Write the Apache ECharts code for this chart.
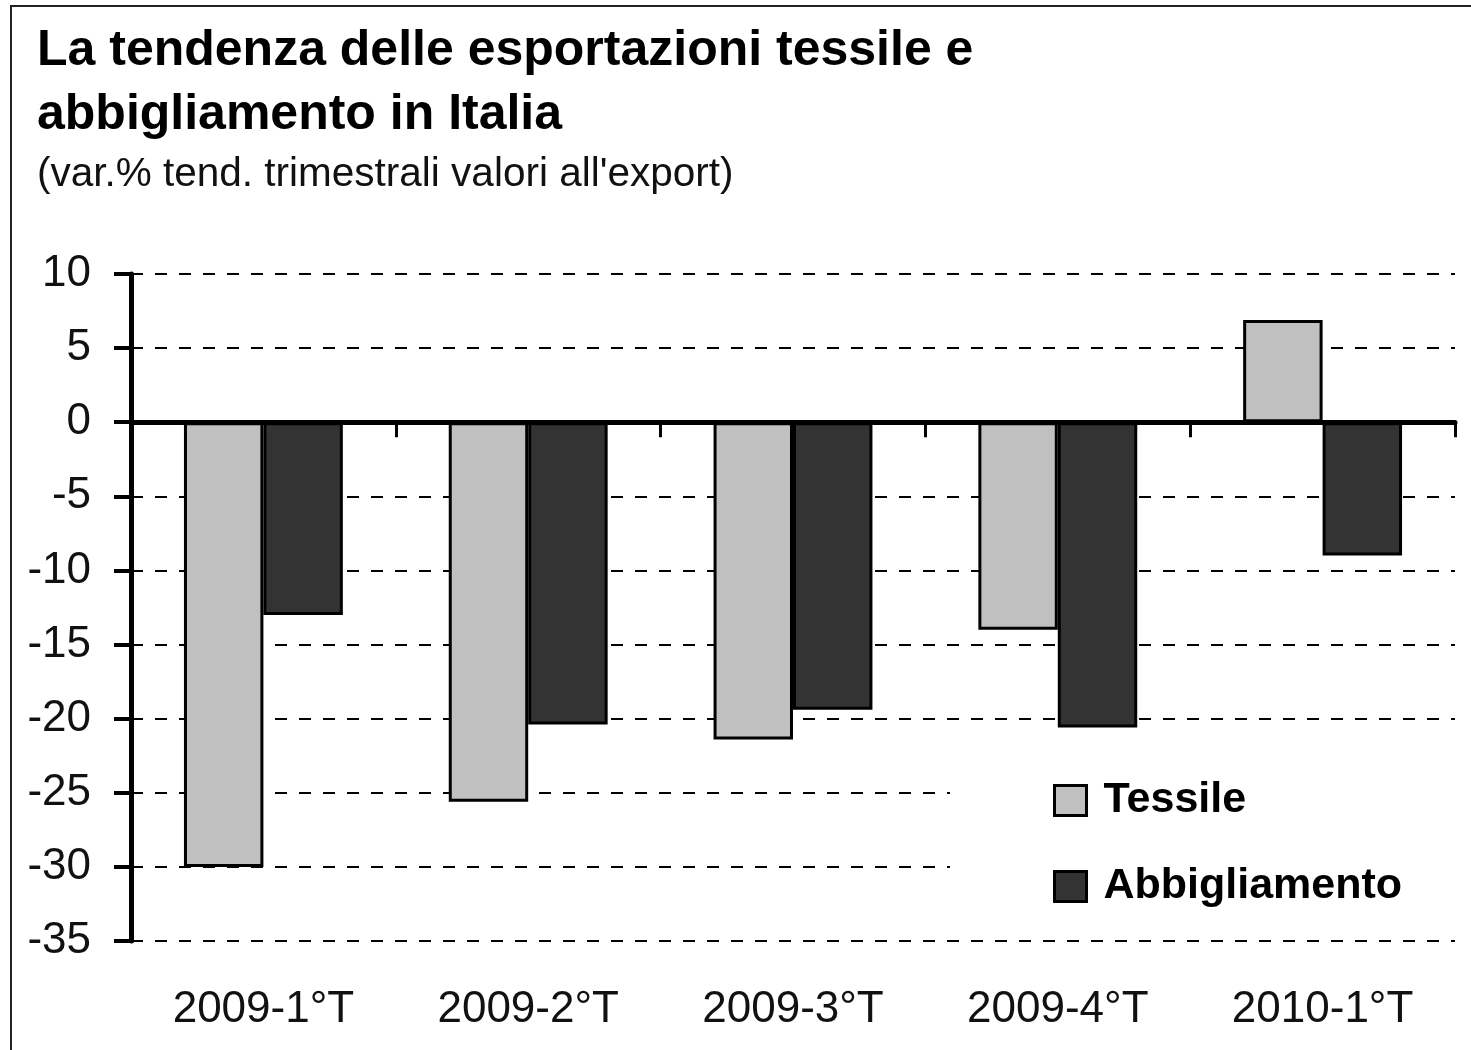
<!DOCTYPE html>
<html lang="it">
<head>
  <meta charset="utf-8">
  <title>La tendenza delle esportazioni tessile e abbigliamento in Italia</title>
  <script type="text/javascript" src="https://cdn.jsdelivr.net/npm/echarts@6/dist/echarts.min.js"></script>
  <style type="text/css">
    * {
      margin: 0;
      padding: 0;
    }
    html, body, #chart {
      width: 100%;
      height: 100%;
      overflow: hidden;
      background: #fff;
    }
  </style>
</head>
<body>
  <div id="chart"></div>
  <script type="text/javascript">
    // testi
    var titleLines = ['La tendenza delle esportazioni tessile e', 'abbigliamento in Italia'];
    var subTitle = "(var.% tend. trimestrali valori all'export)";

    // dati (var.% tendenziali)
    var categories = ['2009-1°T', '2009-2°T', '2009-3°T', '2009-4°T', '2010-1°T'];
    var seriesNames = ['Tessile', 'Abbigliamento'];
    var tessile = [-30.0, -25.6, -21.4, -14.0, 6.9];
    var abbigliamento = [-13.0, -20.4, -19.4, -20.6, -9.0];

    // asse y
    var yMin = -35;
    var yMax = 10;
    var yStep = 5;

    var font = '"Liberation Sans", Arial, sans-serif';

    var option = {
      animation: false,
      backgroundColor: '#fff',
      textStyle: { fontFamily: font },
      graphic: [
        // cornice (solo lati sinistro e superiore visibili)
        {
          type: 'rect',
          shape: { x: 11, y: 6, width: 1600, height: 1200 },
          style: { fill: 'none', stroke: '#222', lineWidth: 2 }
        },
        {
          type: 'text',
          style: {
            x: 37, y: 51, text: titleLines[0],
            font: 'bold 50px ' + font, fill: '#000',
            textAlign: 'left', textVerticalAlign: 'middle'
          }
        },
        {
          type: 'text',
          style: {
            x: 37, y: 115, text: titleLines[1],
            font: 'bold 50px ' + font, fill: '#000',
            textAlign: 'left', textVerticalAlign: 'middle'
          }
        },
        {
          type: 'text',
          style: {
            x: 37, y: 175, text: subTitle,
            font: '40.5px ' + font, fill: '#111',
            textAlign: 'left', textVerticalAlign: 'middle'
          }
        }
      ],
      grid: {
        left: 131,
        right: 16,
        top: 274,
        bottom: 109
      },
      legend: {
        orient: 'vertical',
        left: 950,
        top: 744,
        padding: [35, 60, 10, 103],
        backgroundColor: '#fff',
        icon: 'rect',
        itemWidth: 32,
        itemHeight: 30,
        itemGap: 43,
        data: seriesNames,
        itemStyle: { borderColor: '#000', borderWidth: 3 },
        textStyle: {
          fontFamily: font,
          fontSize: 43,
          fontWeight: 'bold',
          color: '#000',
          padding: [0, 0, 0, 12]
        }
      },
      xAxis: [
        {
          // etichette in basso
          type: 'category',
          data: categories,
          position: 'bottom',
          axisLine: { show: false, onZero: false },
          axisTick: { show: false },
          axisLabel: {
            fontSize: 44,
            color: '#111',
            margin: 69,
            verticalAlign: 'middle',
            interval: 0
          }
        },
        {
          // linea dello zero
          type: 'category',
          data: categories,
          position: 'bottom',
          z: 3,
          axisLine: { show: true, onZero: true, lineStyle: { color: '#000', width: 5 } },
          axisTick: { show: true, length: 15, lineStyle: { color: '#000', width: 3 } },
          axisLabel: { show: false }
        }
      ],
      yAxis: {
        type: 'value',
        min: yMin,
        max: yMax,
        interval: yStep,
        axisLine: { show: true, lineStyle: { color: '#000', width: 5 } },
        axisTick: { show: true, length: 17, lineStyle: { color: '#000', width: 4 } },
        axisLabel: { fontSize: 44, color: '#111', margin: 40 },
        splitLine: {
          show: true,
          lineStyle: { color: '#000', width: 2, type: [12, 12] }
        }
      },
      series: [
        {
          name: seriesNames[0],
          type: 'bar',
          xAxisIndex: 0,
          data: tessile,
          barGap: '0%',
          barCategoryGap: '40%',
          itemStyle: { color: '#c0c0c0', borderColor: '#000', borderWidth: 3 }
        },
        {
          name: seriesNames[1],
          type: 'bar',
          xAxisIndex: 0,
          data: abbigliamento,
          barGap: '0%',
          barCategoryGap: '40%',
          itemStyle: { color: '#333333', borderColor: '#000', borderWidth: 3 }
        }
      ]
    };

    var chart = echarts.init(document.getElementById('chart'));
    chart.setOption(option);
  </script>
</body>
</html>
